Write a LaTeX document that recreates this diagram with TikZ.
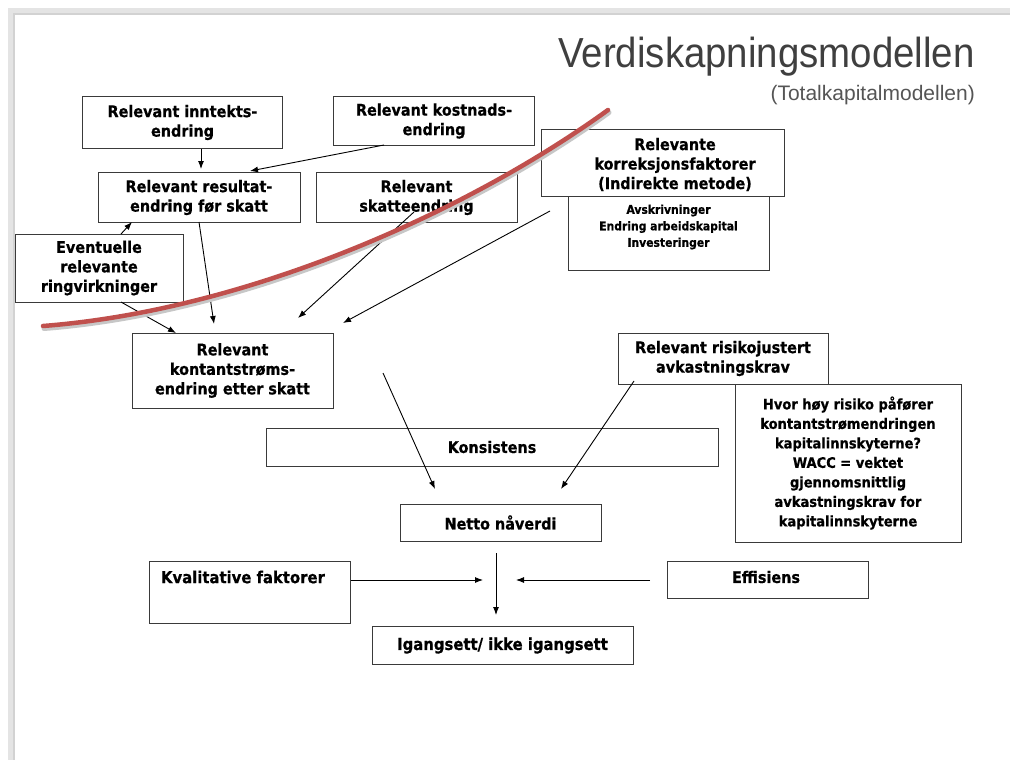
\documentclass[tikz,border=0pt]{standalone}
\usepackage{fontspec}
\usetikzlibrary{arrows.meta}
\newfontfamily\boxfont{DejaVu Sans Condensed Bold}[FakeBold=0.6]
\newfontfamily\titlefont{Liberation Sans}[FakeStretch=0.915]
\newfontfamily\subfont{Liberation Sans}
\definecolor{boxc}{HTML}{3A3A3A}
\definecolor{framegray}{HTML}{E4E4E4}
\definecolor{frameedge}{HTML}{D2D2D2}
\definecolor{redline}{HTML}{C0504D}
\definecolor{titlec}{HTML}{3F3F3F}
\definecolor{subc}{HTML}{555555}
\tikzset{
  box/.style={draw=boxc, line width=1pt, fill=white, align=center, inner sep=0pt,
    font=\boxfont\fontsize{16}{19.5}\selectfont},
  plain/.style={align=center, inner sep=0pt, font=\boxfont\fontsize{16}{19.5}\selectfont},
  small/.style={align=center, inner sep=0pt, font=\boxfont\fontsize{12}{16.5}\selectfont},
  arr/.style={-{Latex[length=8pt,width=6pt]}, line width=0.9pt, black},
  redcurve/.style={line width=4.5pt, redline, line cap=round},
  shadowcurve/.style={line width=5pt, black!22, line cap=round},
}
\begin{document}
\begin{tikzpicture}[x=1pt,y=-1pt]
\useasboundingbox (0,0) rectangle (1010,760);
% slide frame
\fill[framegray] (8,8) rectangle (1010,760);
\fill[frameedge] (13,13) rectangle (1010,760);
\fill[white] (15,15) rectangle (1010,760);
% title
\node[anchor=base east, inner sep=0pt, text=titlec, font=\titlefont\fontsize{42}{42}\selectfont] (title) at (975,68) {Verdiskapningsmodellen};
\node[anchor=base east, inner sep=0pt, text=subc, font=\subfont\fontsize{21}{21}\selectfont] (subtitle) at (975,100) {(Totalkapitalmodellen)};
% boxes
\node[box, minimum width=200, minimum height=51] (inn) at (182.5,122.5) {Relevant inntekts-\\endring};
\node[box, minimum width=201, minimum height=48] (kost) at (434,121) {Relevant kostnads-\\endring};
\node[box, minimum width=202, minimum height=50] (res) at (199,197.5) {Relevant resultat-\\endring før skatt};
\node[box, minimum width=201, minimum height=50] (skatt) at (416.5,197.5) {Relevant\\skatteendring};
\node[box, minimum width=201, minimum height=74] (sub) at (668.5,233) {};
\node[small] (subt) at (668.5,227) {Avskrivninger\\Endring arbeidskapital\\Investeringer};
\node[box, minimum width=243, minimum height=67] (korr) at (663,162.5) {};
\node[plain] (korrt) at (675,164.5) {Relevante\\korreksjonsfaktorer\\(Indirekte metode)};
\node[box, minimum width=168, minimum height=68] (ring) at (99,268) {Eventuelle\\relevante\\ringvirkninger};
\node[box, minimum width=201, minimum height=75] (kont) at (232.5,370.5) {Relevant\\kontantstrøms-\\endring etter skatt};
\node[box, minimum width=210, minimum height=51] (risk) at (723,358.5) {Relevant risikojustert\\avkastningskrav};
\node[box, minimum width=226, minimum height=158, font=\boxfont\fontsize{14.5}{19.5}\selectfont] (hvor) at (848,463) {Hvor høy risiko påfører\\kontantstrømendringen\\kapitalinnskyterne?\\WACC = vektet\\gjennomsnittlig\\avkastningskrav for\\kapitalinnskyterne};
\node[box, minimum width=452, minimum height=38] (kons) at (492,447) {Konsistens};
\node[box, minimum width=201, minimum height=37] (netto) at (500.5,522.5) {Netto nåverdi};
\node[box, minimum width=201, minimum height=62] (kval) at (249.5,592) {};
\node[plain, font=\boxfont\fontsize{16.5}{19.5}\selectfont] (kvalt) at (243,577) {Kvalitative faktorer};
\node[box, minimum width=201, minimum height=37] (eff) at (767.5,579.5) {};
\node[plain] (efft) at (766,577) {Effisiens};
\node[box, minimum width=261, minimum height=38, font=\boxfont\fontsize{16.5}{19.5}\selectfont] (ig) at (502.5,645.5) {Igangsett/ ikke igangsett};
% connector end points
\coordinate (a1s) at (201,149);   \coordinate (a1e) at (201,169);
\coordinate (a2s) at (384,145);   \coordinate (a2e) at (250,171);
\coordinate (a3s) at (121,234);   \coordinate (a3e) at (132,222);
\coordinate (a4s) at (199,222);   \coordinate (a4e) at (214,324);
\coordinate (a5s) at (414,212);   \coordinate (a5e) at (298,318);
\coordinate (a6s) at (550,211);   \coordinate (a6e) at (343,323);
\coordinate (a7s) at (121,302);   \coordinate (a7e) at (176,333);
\coordinate (a8s) at (383,373);   \coordinate (a8e) at (435,489);
\coordinate (a9s) at (634,381);   \coordinate (a9e) at (561,489);
\coordinate (a10s) at (496,553);  \coordinate (a10e) at (496,615);
\coordinate (a11s) at (351,580);  \coordinate (a11e) at (483,580);
\coordinate (a12s) at (650,580);  \coordinate (a12e) at (516,580);
\draw[arr] (a1s) -- (a1e);
\draw[arr] (a2s) -- (a2e);
\draw[arr] (a3s) -- (a3e);
\draw[arr] (a4s) -- (a4e);
\draw[arr] (a5s) -- (a5e);
\draw[arr] (a6s) -- (a6e);
\draw[arr] (a7s) -- (a7e);
\draw[arr] (a8s) -- (a8e);
\draw[arr] (a9s) -- (a9e);
\draw[arr] (a10s) -- (a10e);
\draw[arr] (a11s) -- (a11e);
\draw[arr] (a12s) -- (a12e);
% red stroke
\coordinate (rs) at (43,326);
\coordinate (re) at (608,110);
\draw[shadowcurve] ([shift={(1,2.5)}]rs) .. controls (251,312.5) and (471,212.5) .. ([shift={(1,2.5)}]re);
\draw[redcurve] (rs) .. controls (250,310) and (470,210) .. (re);
\end{tikzpicture}
\end{document}
